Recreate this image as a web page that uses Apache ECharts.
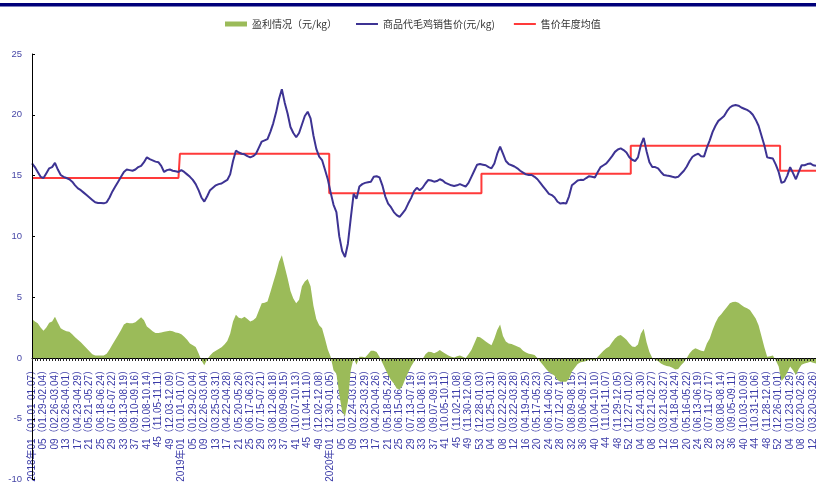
<!DOCTYPE html>
<html>
<head>
<meta charset="utf-8">
<script src="https://cdn.jsdelivr.net/npm/echarts@6/dist/echarts.min.js"></script>
<style>html,body{margin:0;padding:0;background:#fff;}#c{width:816px;height:483px;}</style>
</head>
<body>
<div id="c"></div>
<script>
// tick labels (every 4th week)
const tickLabels = [
 '2018年01（01.01-01.07）','05（01.29-02.04）','09（02.26-03.04）','13（03.26-04.01）','17（04.23-04.29）','21（05.21-05.27）','25（06.18-06.24）','29（07.16-07.22）','33（08.13-08.19）','37（09.10-09.16）','41（10.08-10.14）','45（11.05-11.11）','49（12.03-12.09）',
 '2019年01（01.01-01.07）','05（01.29-02.04）','09（02.26-03.04）','13（03.25-03.31）','17（04.22-04.28）','21（05.20-05.26）','25（06.17-06.23）','29（07.15-07.21）','33（08.12-08.18）','37（09.09-09.15）','41（10.07-10.13）','45（11.04-11.10）','49（12.02-12.08）',
 '2020年01（12.30-01.05）','05（01.27-02.02）','09（02.24-03.01）','13（03.23-03.29）','17（04.20-04.26）','21（05.18-05.24）','25（06.15-06.21）','29（07.13-07.19）','33（08.10-08.16）','37（09.07-09.13）','41（10.05-10.11）','45（11.02-11.08）','49（11.30-12.06）','53（12.28-01.03）',
 '04（01.25-01.31）','08（02.22-02.28）','12（03.22-03.28）','16（04.19-04.25）','20（05.17-05.23）','24（06.14-06.20）','28（07.12-07.18）','32（08.09-08.15）','36（09.06-09.12）','40（10.04-10.10）','44（11.01-11.07）','48（11.29-12.05）','52（12.27-01.02）',
 '04（01.24-01.30）','08（02.21-02.27）','12（03.21-03.27）','16（04.18-04.24）','20（05.16-05.22）','24（06.13-06.19）','28（07.11-07.17）','32（08.08-08.14）','36（09.05-09.11）','40（10.03-10.09）','44（10.31-11.06）','48（11.28-12.04）','52（12.26-01.01）',
 '04（01.23-01.29）','08（02.20-02.26）','12（03.20-03.26）'
];
const weekCount = 274;

// 商品代毛鸡销售价 (元/kg), weekly
const price = [
 16.0,15.7,15.3,14.9,14.8,15.2,15.6,15.7,16.05,15.5, 15.05,14.9,14.8,14.7,14.5,14.2,13.95,13.8,13.6,13.4,
 13.2,13.0,12.8,12.75,12.75,12.72,12.8,13.2,13.7,14.1, 14.5,14.9,15.3,15.5,15.45,15.4,15.5,15.7,15.8,16.1,
 16.5,16.35,16.25,16.15,16.1,15.8,15.3,15.45,15.5,15.4, 15.35,15.3,15.45,15.3,15.1,14.9,14.65,14.3,13.8,13.2,
 12.86,13.3,13.8,14.0,14.2,14.3,14.35,14.5,14.64,15.1, 16.2,17.05,16.9,16.8,16.75,16.6,16.5,16.6,16.8,17.3,
 17.8,17.9,18.0,18.6,19.3,20.2,21.3,22.1,21.0,20.1, 19.0,18.5,18.15,18.5,19.2,19.9,20.25,19.7,18.3,17.2,
 16.56,16.28,15.5,14.7,13.6,12.6,12.0,10.0,8.8,8.3, 9.4,11.5,13.5,13.1,14.1,14.3,14.4,14.45,14.5,14.9,
 14.95,14.85,14.2,13.3,12.7,12.4,12.0,11.75,11.6,11.9, 12.2,12.7,13.15,13.7,14.0,13.8,14.0,14.35,14.64,14.6,
 14.5,14.55,14.7,14.6,14.4,14.3,14.2,14.15,14.2,14.3, 14.2,14.1,14.4,14.9,15.4,15.9,15.95,15.9,15.85,15.7,
 15.6,16.0,16.8,17.38,16.8,16.2,15.95,15.85,15.75,15.6, 15.4,15.25,15.1,15.05,15.05,14.9,14.7,14.4,14.1,13.8,
 13.5,13.4,13.2,12.85,12.7,12.75,12.7,13.3,14.2,14.4, 14.6,14.65,14.64,14.8,14.95,14.9,14.85,15.3,15.7,15.85,
 16.0,16.3,16.6,16.95,17.15,17.24,17.1,16.9,16.5,16.3, 16.2,16.5,17.5,18.1,17.0,16.1,15.7,15.7,15.6,15.3,
 15.05,15.0,14.97,14.9,14.85,14.9,15.15,15.4,15.75,16.2, 16.55,16.7,16.8,16.6,16.56,17.3,17.9,18.6,19.1,19.5,
 19.7,19.9,20.3,20.6,20.75,20.8,20.75,20.6,20.5,20.4, 20.25,20.0,19.6,19.1,18.3,17.5,16.5,16.45,16.4,15.9,
 15.3,14.4,14.5,15.0,15.7,15.2,14.7,15.3,15.85,15.85, 15.95,16.0,15.85,15.8
];

// 盈利情况 (元/kg), weekly
const profit = [
 3.2,3.0,2.85,2.5,2.25,2.5,2.9,3.0,3.4,2.9, 2.45,2.3,2.2,2.15,1.95,1.7,1.5,1.3,1.05,0.8,
 0.55,0.3,0.2,0.2,0.2,0.2,0.35,0.7,1.1,1.5, 1.9,2.3,2.75,2.9,2.85,2.85,2.95,3.15,3.35,3.1,
 2.6,2.4,2.2,2.05,2.05,2.1,2.15,2.2,2.25,2.2, 2.1,2.05,1.95,1.75,1.5,1.2,1.05,0.9,0.4,-0.2,
 -0.6,-0.1,0.2,0.45,0.6,0.75,0.88,1.1,1.4,2.0, 3.0,3.55,3.3,3.25,3.4,3.2,3.0,3.1,3.3,3.9,
 4.5,4.55,4.65,5.4,6.2,7.0,7.9,8.45,7.5,6.55, 5.5,4.9,4.5,4.8,5.9,6.3,6.5,5.9,4.3,3.2,
 2.7,2.45,1.6,0.7,0.1,-1.0,-1.3,-3.0,-4.4,-4.8, -3.6,-1.0,0.0,-0.55,0.1,0.1,0.05,0.3,0.6,0.6,
 0.5,0.1,-0.4,-0.9,-1.4,-1.8,-2.1,-2.5,-2.6,-2.3, -1.7,-1.2,-0.7,-0.3,0.0,-0.15,-0.1,0.3,0.52,0.5,
 0.4,0.5,0.66,0.5,0.35,0.2,0.1,0.05,0.15,0.2, 0.1,0.0,0.3,0.65,1.2,1.75,1.7,1.55,1.35,1.2,
 1.05,1.6,2.3,2.75,1.8,1.35,1.2,1.15,1.05,0.95, 0.85,0.6,0.45,0.35,0.3,0.25,0.0,-0.3,-0.6,-0.9,
 -1.15,-1.3,-1.45,-1.8,-1.95,-1.95,-1.95,-1.7,-1.1,-0.8, -0.5,-0.35,-0.3,-0.25,-0.15,-0.15,-0.2,0.1,0.35,0.6,
 0.8,0.95,1.3,1.6,1.8,1.9,1.7,1.5,1.2,0.95, 0.9,1.1,2.0,2.4,1.3,0.5,0.0,-0.15,-0.25,-0.45,
 -0.57,-0.65,-0.7,-0.8,-0.95,-0.9,-0.6,-0.35,0.0,0.4, 0.66,0.8,0.7,0.6,0.55,1.2,1.6,2.3,2.9,3.35,
 3.6,3.9,4.2,4.5,4.6,4.63,4.55,4.35,4.2,4.1, 3.95,3.6,3.25,2.7,1.8,0.9,0.1,0.15,0.2,-0.2,
 -0.7,-1.9,-1.6,-1.2,-0.7,-1.0,-1.4,-0.9,-0.55,-0.45, -0.4,-0.3,-0.4,-0.45
];

// 售价年度均值 (元/kg)
const yearAvg = [14.8, 16.8, 13.55, 15.15, 17.45, 15.4];
const yearWeeks = [52, 52, 53, 52, 52, 13];

const yTicks = {min: -10, max: 25, interval: 5};

// build category names & year-average line
const categories = [];
for (let i = 0; i < weekCount; i++) {
  categories.push(i % 4 === 0 ? tickLabels[i / 4] : ('w' + i));
}
const avgLine = [];
yearAvg.forEach((v, k) => { for (let j = 0; j < yearWeeks[k]; j++) avgLine.push(v); });

const chart = echarts.init(document.getElementById('c'));
const FONT = 'Liberation Sans, "Noto Sans CJK SC", sans-serif';
chart.setOption({
  animation: false,
  backgroundColor: '#fff',
  graphic: [{type: 'rect', left: 0, top: 3, shape: {width: 816, height: 3.5}, style: {fill: '#00007A'}}],
  legend: {
    top: 14, left: 220,
    itemWidth: 22, itemHeight: 5, itemGap: 18,
    textStyle: {fontSize: 10, color: '#333', fontFamily: '"Noto Sans CJK SC", sans-serif'},
    data: [
      {name: '盈利情况（元/kg）', icon: 'rect', itemStyle: {color: '#9BBB59'}},
      {name: '商品代毛鸡销售价(元/kg)', itemStyle: {opacity: 0}},
      {name: '售价年度均值', itemStyle: {opacity: 0}}
    ]
  },
  grid: [
    // main plot area
    {left: 32, right: 0, top: 54, bottom: 3.4, outerBoundsMode: 'none'},
    // label band: its bottom edge sits on the zero line of the main plot
    {left: 32, right: 0, top: 54, bottom: 125, outerBoundsMode: 'none'}
  ],
  xAxis: [
    {
      type: 'category', gridIndex: 0,
      data: categories,
      boundaryGap: false,
      axisLine: {onZero: true, lineStyle: {color: '#000', width: 1}},
      axisTick: {show: true, interval: 0, length: 3, lineStyle: {color: '#222'}},
      axisLabel: {show: false},
      splitLine: {show: false},
      z: 6
    },
    {
      type: 'category', gridIndex: 1,
      data: categories,
      boundaryGap: false, position: 'bottom',
      axisLine: {show: false, onZero: false},
      axisTick: {show: false},
      axisLabel: {interval: 3, rotate: 90, fontSize: 10, color: '#3B3BA8', fontFamily: FONT, margin: 7},
      splitLine: {show: false},
      z: 0
    }
  ],
  yAxis: [
    {
      type: 'value', gridIndex: 0,
      min: yTicks.min, max: yTicks.max, interval: yTicks.interval,
      axisLine: {show: true, lineStyle: {color: '#000', width: 1}},
      axisTick: {show: true, inside: true, length: 3, lineStyle: {color: '#000'}},
      axisLabel: {fontSize: 9.5, color: '#4646A6', fontFamily: FONT, margin: 10},
      splitLine: {show: false},
      z: 6
    },
    {
      type: 'value', gridIndex: 1, show: false, min: 0, max: 1,
      splitLine: {show: false}
    }
  ],
  series: [
    {
      name: '盈利情况（元/kg）', type: 'line', data: profit,
      symbol: 'none', lineStyle: {width: 0, color: '#9BBB59'}, itemStyle: {color: '#9BBB59'},
      areaStyle: {color: '#9BBB59', opacity: 1}, z: 3
    },
    {
      name: '售价年度均值', type: 'line', data: avgLine, step: 'middle',
      symbol: 'none', lineStyle: {width: 2, color: '#FF3A3A'}, itemStyle: {color: '#FF3A3A'}, z: 4
    },
    {
      name: '商品代毛鸡销售价(元/kg)', type: 'line', data: price,
      symbol: 'none', lineStyle: {width: 2, color: '#3D3393'}, itemStyle: {color: '#3D3393'}, z: 5
    }
  ]
});
</script>
</body>
</html>
